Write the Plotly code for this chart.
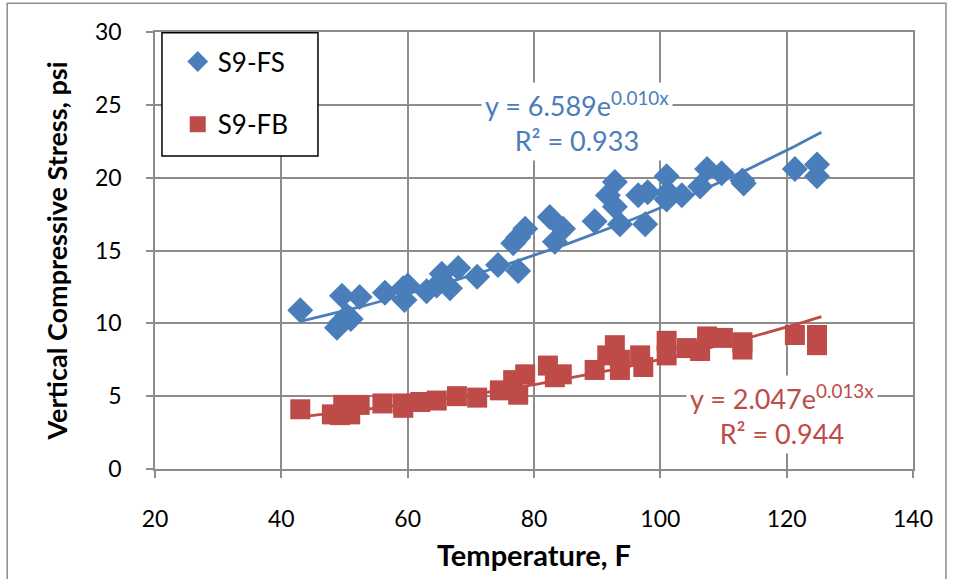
import numpy as np
import plotly.graph_objects as go

# S9-FS readings (temperature F, vertical compressive stress psi)
fs_temp = [43.0, 48.8, 49.3, 49.6, 50.4, 51.0, 52.4, 56.4, 59.3, 59.5, 60.0,
           63.0, 64.6, 65.4, 66.7, 68.0, 71.0, 74.3, 76.7, 77.5, 77.5, 78.6,
           82.5, 83.3, 84.6, 89.6, 91.7, 92.8, 92.8, 93.6, 96.5, 97.6, 98.0,
           101.0, 101.0, 101.2, 103.4, 106.3, 107.4, 109.7, 113.0, 113.2,
           121.3, 124.8, 124.8]
fs_stress = [10.9, 9.7, 10.0, 11.9, 10.5, 10.3, 11.8, 12.1, 12.4, 11.6, 12.6,
             12.2, 12.6, 13.4, 12.4, 13.8, 13.2, 14.0, 15.5, 13.6, 15.9, 16.5,
             17.3, 15.6, 16.5, 17.0, 18.8, 19.7, 18.0, 16.8, 18.8, 16.8, 19.0,
             20.1, 18.5, 19.0, 18.8, 19.4, 20.6, 20.3, 19.8, 19.6,
             20.6, 20.9, 20.1]

# S9-FB readings
fb_temp = [43.0, 48.0, 49.3, 49.8, 50.9, 52.4, 56.0, 59.2, 59.3, 62.0, 64.6,
           67.8, 71.0, 74.6, 76.7, 77.5, 78.6, 82.2, 83.3, 84.4, 89.6, 91.6,
           92.8, 93.6, 93.6, 96.8, 97.3, 101.0, 101.0, 104.2, 106.3, 107.4,
           109.9, 113.0, 113.0, 121.3, 124.8, 124.8]
fb_stress = [4.1, 3.75, 3.7, 4.4, 3.75, 4.4, 4.5, 4.5, 4.2, 4.6, 4.7,
             5.0, 4.9, 5.4, 6.1, 5.1, 6.5, 7.1, 6.3, 6.5, 6.8, 7.8,
             8.5, 6.8, 7.5, 7.8, 7.0, 8.8, 7.8, 8.3, 8.1, 9.1,
             9.0, 8.7, 8.2, 9.2, 9.2, 8.5]

# Exponential trendline coefficients: y = a * exp(b x)
fs_a, fs_b, fs_r2 = 6.589, 0.010, 0.933
fb_a, fb_b, fb_r2 = 2.047, 0.013, 0.944

x_ticks = [20, 40, 60, 80, 100, 120, 140]
y_ticks = [0, 5, 10, 15, 20, 25, 30]

BLUE = "#4A7EBB"
RED = "#BE4B48"
GRID = "#8C8C8C"
FONT = "Lato, 'Open Sans', sans-serif"

fig = go.Figure()

for temps, a, b, color in [(fs_temp, fs_a, fs_b, BLUE), (fb_temp, fb_a, fb_b, RED)]:
    xs = np.linspace(min(temps), max(temps) + 0.7, 60)
    fig.add_trace(go.Scatter(
        x=xs, y=a * np.exp(b * xs), mode="lines",
        line=dict(color=color, width=2.8), showlegend=False, hoverinfo="skip"))

fig.add_trace(go.Scatter(
    x=fs_temp, y=fs_stress, mode="markers", name="S9-FS", legendgroup="fs",
    marker=dict(symbol="diamond", size=20, color=BLUE)))
fig.add_trace(go.Scatter(
    x=fb_temp, y=fb_stress, mode="markers", name="S9-FB", legendgroup="fb",
    marker=dict(symbol="square", size=20, color=RED)))

fig.add_annotation(
    x=0.557, y=0.795, xref="paper", yref="paper", xanchor="center", yanchor="middle",
    text=f"y = {fs_a:.3f}e<sup>{fs_b:.3f}x</sup><br>R² = {fs_r2:.3f}",
    showarrow=False, align="center", bgcolor="white", borderpad=3,
    font=dict(family=FONT, size=27, color=BLUE))
fig.add_annotation(
    x=0.827, y=0.125, xref="paper", yref="paper", xanchor="center", yanchor="middle",
    text=f"y = {fb_a:.3f}e<sup>{fb_b:.3f}x</sup><br>R² = {fb_r2:.3f}",
    showarrow=False, align="center", bgcolor="white", borderpad=3,
    font=dict(family=FONT, size=27, color=RED))

# Outer chart border
fig.add_shape(type="rect", xref="paper", yref="paper",
              x0=-0.195, x1=1.0435, y0=-0.3, y1=1.066,
              line=dict(color="#8C8C8C", width=1.5), layer="below")

# Legend frame (the legend itself is drawn on top of it)
fig.add_shape(type="rect", xref="paper", yref="paper",
              x0=0.0092, x1=0.215, y0=0.716, y1=0.998,
              line=dict(color="black", width=1.5), fillcolor="white", layer="above")

axis_common = dict(
    showgrid=True, gridcolor=GRID, gridwidth=1.5,
    showline=True, linecolor=GRID, linewidth=1.5, mirror=True,
    ticks="outside", ticklen=7, tickcolor=GRID, tickwidth=1.5,
    zeroline=False, tickfont=dict(family=FONT, size=23, color="black"))

fig.update_layout(
    width=953, height=579,
    margin=dict(l=155, r=40, t=32, b=107),
    paper_bgcolor="white", plot_bgcolor="white",
    xaxis=dict(range=[20, 140], tickvals=x_ticks, ticklabelstandoff=22,
               title=dict(text="<b>Temperature, F</b>", standoff=14,
                          font=dict(family=FONT, size=29, color="black")),
               **axis_common),
    yaxis=dict(range=[0, 30], tickvals=y_ticks, ticklabelstandoff=20,
               title=dict(text="<b>Vertical Compressive Stress, psi</b>", standoff=20,
                          font=dict(family=FONT, size=27, color="black")),
               **axis_common),
    legend=dict(x=0.03, y=0.986, xanchor="left", yanchor="top",
                bgcolor="rgba(0,0,0,0)", borderwidth=0,
                font=dict(family=FONT, size=26, color="black"),
                tracegroupgap=26, itemsizing="trace"),
    showlegend=True,
)

fig.write_html("out.html")
